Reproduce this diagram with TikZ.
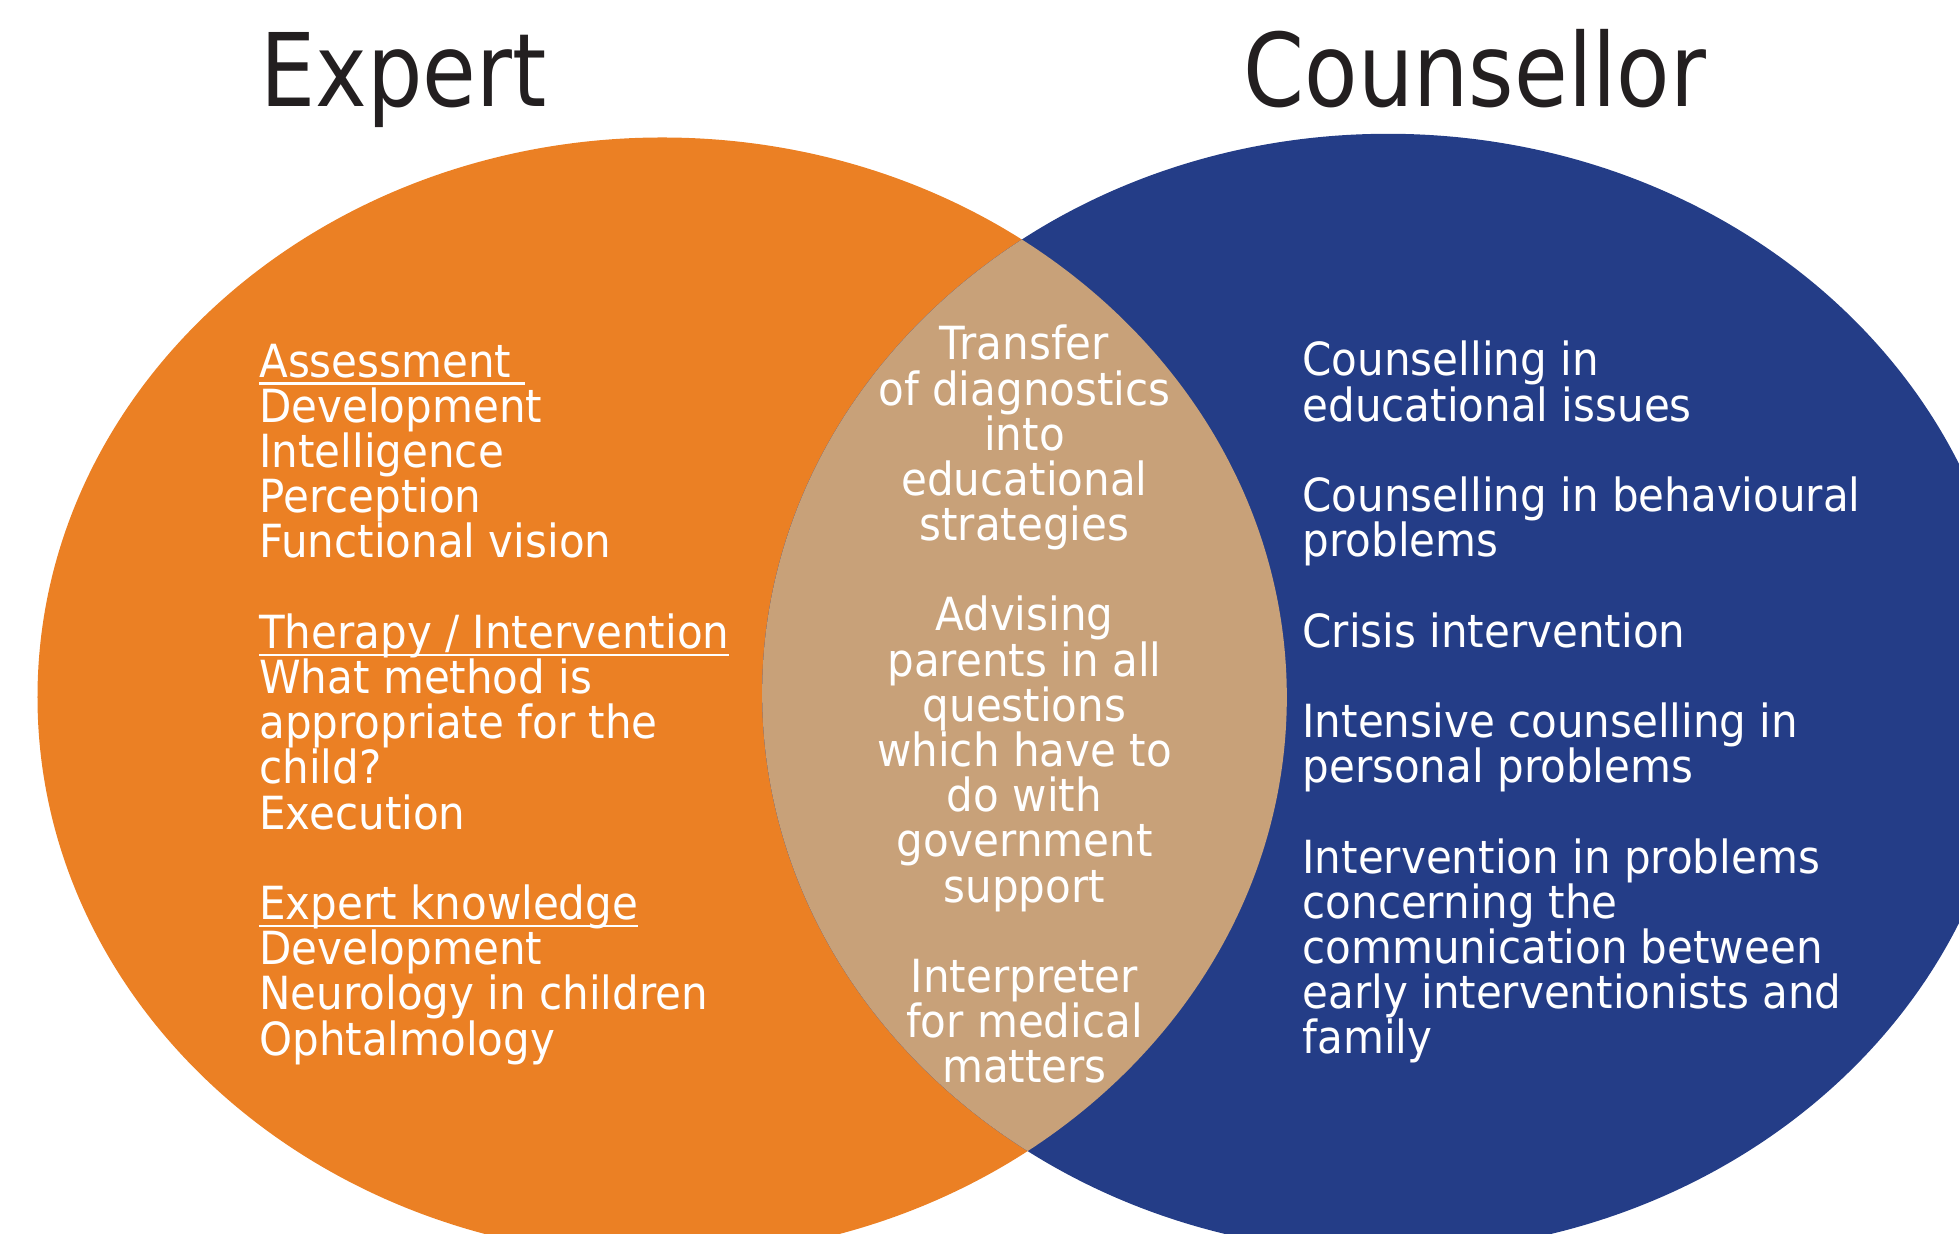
\documentclass[tikz,border=0pt]{standalone}
\usepackage{fontspec}
\setmainfont{DejaVu Sans}[FakeStretch=0.92]
\newfontfamily\headfont{DejaVu Sans}[FakeStretch=0.86]

\definecolor{expertorange}{RGB}{235,128,36}
\definecolor{counselblue}{RGB}{36,61,135}
\definecolor{sharedtan}{RGB}{200,161,121}
\definecolor{headgrey}{RGB}{35,31,32}

% underlined group heading
\newsavebox{\groupbox}
\newcommand{\grouphead}[1]{%
  \sbox{\groupbox}{#1}%
  \rlap{\rule[-2.2pt]{\wd\groupbox}{0.7pt}}\usebox{\groupbox}}

\tikzset{
  headline/.style={font=\headfont\fontsize{28.9}{30}\selectfont,
    text=headgrey, inner sep=0pt, anchor=base west},
  itemlist/.style={font=\fontsize{13}{12.86}\selectfont,
    text=white, inner sep=0pt},
}

\begin{document}
\begin{tikzpicture}
  \useasboundingbox (0,0) rectangle (19.591,12.332);

  % the two sets
  \coordinate (expert) at (6.622,5.360);
  \coordinate (counsel) at (13.881,5.397);
  \fill[expertorange] (expert) ellipse [x radius=6.247cm, y radius=5.597cm];
  \fill[counselblue] (counsel) ellipse [x radius=6.259cm, y radius=5.597cm];
  \begin{scope}
    \clip (expert) ellipse [x radius=6.247cm, y radius=5.597cm];
    \fill[sharedtan] (counsel) ellipse [x radius=6.259cm, y radius=5.597cm];
  \end{scope}

  % headings
  \node[headline] (experthead) at (2.599,11.270) {Expert};
  \node[headline] (counselhead) at (12.431,11.270) {Counsellor};

  % lists are placed by the baseline of their last line
  % left set
  \node[itemlist, anchor=base west, align=left] (expertlist) at (2.586,1.780)
    {\grouphead{Assessment\ }\\
     Development\\
     Intelligence\\
     Perception\\
     Functional vision\\[\baselineskip]
     \grouphead{Therapy / Intervention}\\
     What method is\\
     appropriate for the\\
     child?\\
     Execution\\[\baselineskip]
     \grouphead{Expert knowledge}\\
     Development\\
     Neurology in children\\
     Ophtalmology};

  % overlap
  \node[itemlist, anchor=base, align=center] (sharedlist) at (10.245,1.502)
    {Transfer\\
     of diagnostics\\
     into\\
     educational\\
     strategies\\[\baselineskip]
     Advising\\
     parents in all\\
     questions\\
     which have to\\
     do with\\
     government\\
     support\\[\baselineskip]
     Interpreter\\
     for medical\\
     matters};

  % right set
  \node[itemlist, anchor=base west, align=left] (counsellist) at (13.019,1.793)
    {Counselling in\\
     educational issues\\[\baselineskip]
     Counselling in behavioural\\
     problems\\[\baselineskip]
     Crisis intervention\\[\baselineskip]
     Intensive counselling in\\
     personal problems\\[\baselineskip]
     Intervention in problems\\
     concerning the\\
     communication between\\
     early interventionists and\\
     family};
\end{tikzpicture}
\end{document}
